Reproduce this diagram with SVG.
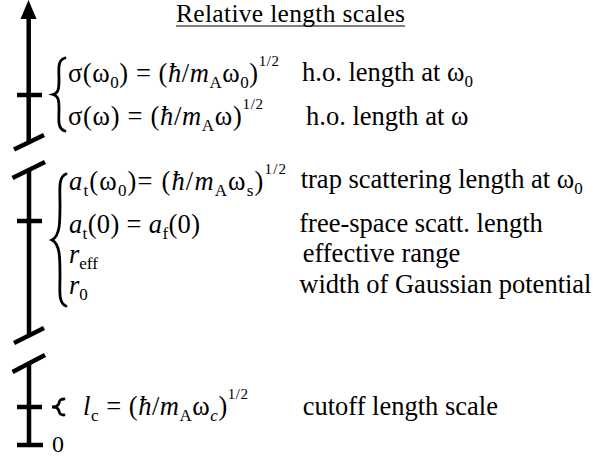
<svg xmlns="http://www.w3.org/2000/svg" width="593" height="459" viewBox="0 0 593 459">
<style>
text{font-family:"Liberation Serif","Times New Roman",serif;font-size:26.5px;fill:#000}
.i{font-style:italic}
.sb{font-size:17px}
.sp{font-size:15px}
.ax{stroke:#000;stroke-width:4.5;fill:none}
.br{stroke:#000;stroke-width:2.8;fill:none;stroke-linecap:round}
</style>
<rect width="593" height="459" fill="#fff"/>
<g id="axis">
<polygon points="28.5,0 20.5,19 36.5,19" fill="#000"/>
<line class="ax" x1="28.7" y1="15" x2="28.7" y2="142"/>
<line class="ax" x1="14" y1="149.5" x2="44" y2="135"/>
<line class="ax" x1="17" y1="95" x2="42" y2="95"/>
<line class="ax" x1="12.5" y1="178" x2="45" y2="162"/>
<line class="ax" x1="29" y1="170" x2="29" y2="336"/>
<line class="ax" x1="17" y1="221" x2="42" y2="221"/>
<line class="ax" x1="14" y1="343" x2="44" y2="328"/>
<line class="ax" x1="12.5" y1="372" x2="45" y2="355"/>
<line class="ax" x1="29" y1="364" x2="29" y2="445"/>
<line class="ax" x1="17" y1="407" x2="42" y2="407"/>
<line class="ax" x1="17" y1="445" x2="43" y2="445"/>
<text x="52" y="452" style="font-size:24px">0</text>
</g>
<g id="title">
<text x="176" y="22" textLength="229" style="font-size:25.5px">Relative length scales</text>
<line x1="176" y1="26" x2="405" y2="26" stroke="#000" stroke-width="1.2"/>
</g>
<g id="ho-group">
<path class="br" d="M65,58 C57,60 59,70 59,80 C59,90 58,93 53,94.5 C58,96 59,99 59,109 C59,119 57,129 65,131"/>
<text x="68" y="82" textLength="211">σ(ω<tspan class="sb" dy="6">0</tspan><tspan dy="-6">) = (</tspan><tspan class="i">ħ</tspan>/<tspan class="i">m</tspan><tspan class="sb" dy="6">A</tspan><tspan dy="-6">ω</tspan><tspan class="sb" dy="6">0</tspan><tspan dy="-6">)</tspan><tspan class="sp" dy="-16">1/2</tspan></text>
<text x="68" y="125" textLength="195">σ(ω) = (<tspan class="i">ħ</tspan>/<tspan class="i">m</tspan><tspan class="sb" dy="6">A</tspan><tspan dy="-6">ω)</tspan><tspan class="sp" dy="-16">1/2</tspan></text>
<text x="302" y="81">h.o. length at ω<tspan class="sb" dy="6">0</tspan></text>
<text x="306" y="125">h.o. length at ω</text>
</g>
<g id="scatt-group">
<path class="br" d="M66,174 C58,177 60,190 60,205 C60,222 60,236 52,240 C60,244 60,258 60,275 C60,290 58,303 66,306"/>
<text x="69" y="190" textLength="217"><tspan class="i">a</tspan><tspan class="sb" dy="6">t</tspan><tspan dy="-6">(ω</tspan><tspan class="sb" dy="6">0</tspan><tspan dy="-6">)= (</tspan><tspan class="i">ħ</tspan>/<tspan class="i">m</tspan><tspan class="sb" dy="6">A</tspan><tspan dy="-6">ω</tspan><tspan class="sb" dy="6">s</tspan><tspan dy="-6">)</tspan><tspan class="sp" dy="-16">1/2</tspan></text>
<text x="69" y="233" textLength="131"><tspan class="i">a</tspan><tspan class="sb" dy="6">t</tspan><tspan dy="-6">(0) = </tspan><tspan class="i">a</tspan><tspan class="sb" dy="6">f</tspan><tspan dy="-6">(0)</tspan></text>
<text x="69" y="263"><tspan class="i">r</tspan><tspan class="sb" dy="6">eff</tspan></text>
<text x="69" y="294"><tspan class="i">r</tspan><tspan class="sb" dy="6">0</tspan></text>
<text x="300.7" y="188">trap scattering length at ω<tspan class="sb" dy="6">0</tspan></text>
<text x="299.3" y="232">free-space scatt. length</text>
<text x="302.7" y="262">effective range</text>
<text x="299.3" y="293">width of Gaussian potential</text>
</g>
<g id="cutoff-group">
<path class="br" d="M64,399 C58,399 60,403 58,405 C57,406.5 55,407 52,407 C55,407 57,407.5 58,409 C60,411 58,415 64,415"/>
<text x="83" y="415" textLength="165"><tspan class="i">l</tspan><tspan class="sb" dy="6">c</tspan><tspan dy="-6"> = (</tspan><tspan class="i">ħ</tspan>/<tspan class="i">m</tspan><tspan class="sb" dy="6">A</tspan><tspan dy="-6">ω</tspan><tspan class="sb i" dy="6">c</tspan><tspan dy="-6">)</tspan><tspan class="sp" dy="-16">1/2</tspan></text>
<text x="302.7" y="415">cutoff length scale</text>
</g>
</svg>
